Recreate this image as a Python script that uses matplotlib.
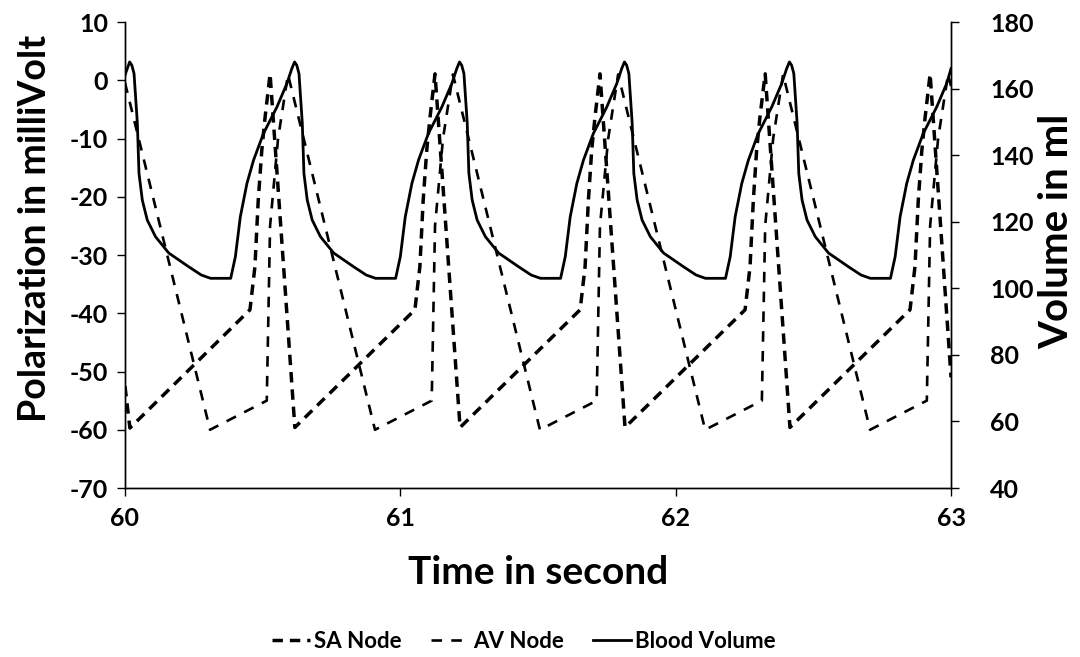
import matplotlib.pyplot as plt

# SA node potential (mV)
sa_time = [60.000, 60.018, 60.454, 60.472, 60.484, 60.497, 60.509, 60.527,
           60.617, 61.053, 61.071, 61.083, 61.096, 61.108, 61.126,
           61.217, 61.653, 61.671, 61.683, 61.695, 61.707, 61.725,
           61.816, 62.252, 62.270, 62.282, 62.294, 62.306, 62.325,
           62.415, 62.851, 62.869, 62.881, 62.894, 62.906, 62.924,
           63.000]
sa_mv = [-52.5, -59.7, -39.4, -32.0, -20.6, -12.0, -6.3, 1.1,
         -59.6, -39.4, -32.0, -20.6, -12.0, -6.3, 1.1,
         -59.6, -39.4, -32.0, -20.6, -12.0, -6.3, 1.1,
         -59.6, -39.4, -32.0, -20.6, -12.0, -6.3, 1.1,
         -59.6, -39.4, -32.0, -20.6, -12.0, -6.3, 1.1,
         -51.0]

# AV node potential (mV)
av_time = [60.000, 60.309, 60.515, 60.527, 60.556, 60.592,
           60.908, 61.114, 61.126, 61.155, 61.191,
           61.507, 61.713, 61.725, 61.755, 61.791,
           62.107, 62.313, 62.325, 62.354, 62.390,
           62.706, 62.912, 62.924, 62.953, 62.989,
           63.000]
av_mv = [-0.4, -60.0, -55.0, -25.0, -10.0, 1.0,
         -60.0, -55.0, -25.0, -10.0, 1.0,
         -60.0, -55.0, -25.0, -10.0, 1.0,
         -60.0, -55.0, -25.0, -10.0, 1.0,
         -60.0, -55.0, -25.0, -10.0, 1.0,
         -1.0]

# blood volume (ml), right axis
bv_time = [60.000, 60.017, 60.025, 60.033, 60.045, 60.051, 60.063, 60.081, 60.111, 60.159,
           60.231, 60.277, 60.311, 60.384, 60.401, 60.419, 60.443, 60.467, 60.503, 60.552,
           60.588, 60.606,
           60.616, 60.624, 60.632, 60.644, 60.650, 60.662, 60.680, 60.710, 60.758, 60.830,
           60.876, 60.910, 60.983, 61.000, 61.018, 61.042, 61.066, 61.102, 61.151, 61.187,
           61.205,
           61.215, 61.223, 61.231, 61.243, 61.249, 61.261, 61.279, 61.309, 61.357, 61.429,
           61.475, 61.509, 61.582, 61.599, 61.617, 61.641, 61.665, 61.701, 61.750, 61.786,
           61.804,
           61.814, 61.822, 61.830, 61.842, 61.848, 61.860, 61.878, 61.908, 61.956, 62.028,
           62.074, 62.108, 62.181, 62.198, 62.216, 62.240, 62.264, 62.300, 62.349, 62.385,
           62.403,
           62.413, 62.421, 62.429, 62.441, 62.447, 62.459, 62.477, 62.507, 62.555, 62.627,
           62.673, 62.707, 62.780, 62.797, 62.815, 62.839, 62.863, 62.899, 62.948, 62.984,
           63.000]
bv_ml = [164.0, 168.0, 167.0, 164.5, 149.6, 134.5, 126.5, 120.5, 115.5, 110.6,
         106.5, 104.0, 103.0, 103.0, 109.5, 121.5, 131.5, 138.5, 146.5, 154.5,
         161.5, 166.0,
         168.0, 167.0, 164.5, 149.6, 134.5, 126.5, 120.5, 115.5, 110.6, 106.5,
         104.0, 103.0, 103.0, 109.5, 121.5, 131.5, 138.5, 146.5, 154.5, 161.5,
         166.0,
         168.0, 167.0, 164.5, 149.6, 134.5, 126.5, 120.5, 115.5, 110.6, 106.5,
         104.0, 103.0, 103.0, 109.5, 121.5, 131.5, 138.5, 146.5, 154.5, 161.5,
         166.0,
         168.0, 167.0, 164.5, 149.6, 134.5, 126.5, 120.5, 115.5, 110.6, 106.5,
         104.0, 103.0, 103.0, 109.5, 121.5, 131.5, 138.5, 146.5, 154.5, 161.5,
         166.0,
         168.0, 167.0, 164.5, 149.6, 134.5, 126.5, 120.5, 115.5, 110.6, 106.5,
         104.0, 103.0, 103.0, 109.5, 121.5, 131.5, 138.5, 146.5, 154.5, 161.5,
         166.0]

x_ticks = [60, 61, 62, 63]
left_ticks = [10, 0, -10, -20, -30, -40, -50, -60, -70]
right_ticks = [180, 160, 140, 120, 100, 80, 60, 40]

plt.rcParams['font.family'] = ['Lato', 'DejaVu Sans']
plt.rcParams['font.weight'] = 'bold'
plt.rcParams['axes.unicode_minus'] = False

fig = plt.figure(figsize=(10.8, 6.57), dpi=100)
ax = fig.add_axes([0.1157, 0.2572, 0.7649, 0.7093])
ax2 = ax.twinx()

l1, = ax.plot(sa_time, sa_mv, color='black', lw=2.5, dashes=(3, 2), label='SA Node')
l2, = ax.plot(av_time, av_mv, color='black', lw=1.9, dashes=(4, 3.5), label='AV Node')
l3, = ax2.plot(bv_time, bv_ml, color='black', lw=2.0, label='Blood Volume')

ax.set_xlim(60, 63)
ax.set_ylim(-70, 10)
ax2.set_ylim(40, 180)
ax.set_xticks(x_ticks)
ax.set_yticks(left_ticks)
ax2.set_yticks(right_ticks)

for a in (ax, ax2):
    a.spines['top'].set_visible(False)
    for s in a.spines.values():
        s.set_linewidth(1.0)
ax.tick_params(axis='x', direction='out', length=6, width=1, labelsize=18, pad=8)
ax.tick_params(axis='y', direction='out', length=6, width=1, labelsize=18, pad=6)
ax2.tick_params(axis='y', direction='out', length=6, width=1, labelsize=18, pad=22)

fig.text(0.032, 0.652, 'Polarization in milliVolt', rotation=90, ha='center', va='center',
         fontsize=27, fontweight='bold')
fig.text(0.978, 0.648, 'Volume in ml', rotation=90, ha='center', va='center',
         fontsize=29, fontweight='bold')
fig.text(0.498, 0.129, 'Time in second', ha='center', va='center',
         fontsize=28, fontweight='bold')

fig.legend([l1, l2, l3], ['SA Node', 'AV Node', 'Blood Volume'], loc='center',
           bbox_to_anchor=(0.485, 0.024), ncol=3, frameon=False, fontsize=16,
           handlelength=1.7, handletextpad=0.2, columnspacing=1.3)

fig.savefig('out.png', dpi=100)
